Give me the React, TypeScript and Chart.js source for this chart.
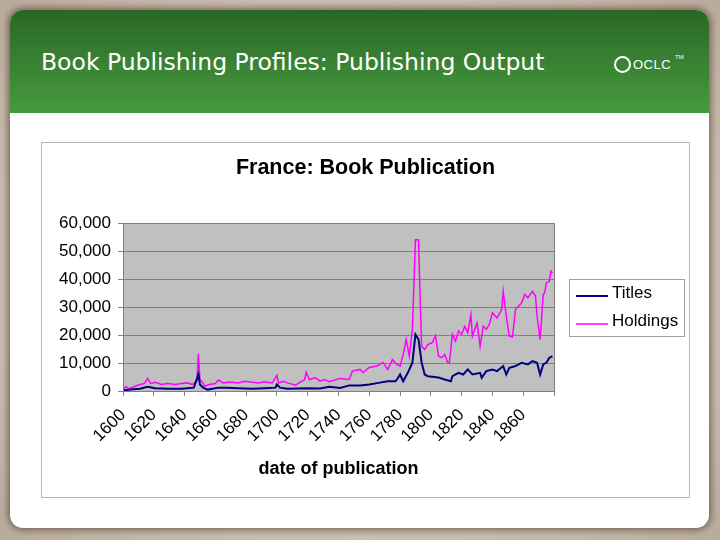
import React, { useEffect, useRef } from "react";
import { Chart, registerables } from "chart.js";

Chart.register(...registerables);

const titleYears = [1600, 1605, 1611, 1616, 1621, 1629, 1638, 1646, 1649, 1650, 1652, 1655, 1662, 1668, 1675, 1684, 1692, 1699, 1700, 1702, 1707, 1719, 1728, 1734, 1741, 1747, 1754, 1760, 1766, 1772, 1777, 1778, 1780, 1782, 1785, 1788, 1790, 1792, 1794, 1796, 1798, 1805, 1809, 1813, 1814, 1818, 1821, 1824, 1827, 1832, 1833, 1836, 1840, 1843, 1847, 1849, 1851, 1855, 1859, 1863, 1866, 1869, 1871, 1873, 1875, 1877, 1879];
const titleValues = [200, 500, 800, 1500, 1000, 800, 800, 1200, 5900, 2300, 1200, 500, 1200, 1200, 1000, 800, 1000, 1200, 2300, 1200, 800, 1000, 900, 1500, 1100, 2000, 2000, 2300, 2900, 3500, 3500, 4100, 5900, 3500, 6500, 10100, 20200, 18400, 10200, 5900, 5300, 4800, 4100, 3500, 5300, 6500, 5900, 7700, 5900, 6500, 4700, 7100, 7700, 7100, 8900, 5900, 8300, 8900, 10100, 9500, 10700, 10100, 5900, 9500, 10100, 11900, 12400];

const holdingYears = [1600, 1602, 1604, 1608, 1611, 1614, 1616, 1618, 1621, 1625, 1629, 1634, 1638, 1642, 1645, 1648, 1649, 1650, 1652, 1653, 1656, 1660, 1662, 1665, 1668, 1671, 1675, 1679, 1684, 1688, 1692, 1697, 1700, 1701, 1704, 1707, 1712, 1715, 1718, 1719, 1721, 1725, 1728, 1731, 1734, 1741, 1747, 1749, 1754, 1756, 1760, 1765, 1769, 1772, 1775, 1778, 1780, 1782, 1784, 1786, 1788, 1790, 1792, 1793, 1794, 1796, 1798, 1801, 1803, 1805, 1807, 1809, 1811, 1812, 1814, 1816, 1818, 1820, 1822, 1824, 1826, 1827, 1830, 1832, 1834, 1836, 1838, 1840, 1843, 1846, 1847, 1849, 1851, 1853, 1855, 1857, 1859, 1861, 1863, 1866, 1868, 1869, 1871, 1873, 1874, 1875, 1877, 1878, 1879];
const holdingValues = [500, 1500, 800, 1700, 2300, 2700, 4500, 2700, 3100, 2300, 2700, 2300, 2700, 2900, 2300, 3500, 13400, 4100, 2900, 1700, 2300, 2700, 3900, 2900, 3100, 3100, 2900, 3500, 3100, 2900, 3300, 2900, 5600, 2900, 3500, 2900, 2100, 3100, 4100, 6700, 4100, 4700, 3500, 4100, 3300, 4500, 4100, 7100, 7700, 6600, 8400, 8900, 10200, 7700, 11200, 9500, 8900, 13000, 18400, 12400, 22000, 54000, 54000, 33900, 16000, 14800, 16600, 17300, 19800, 12400, 11900, 13000, 10100, 10100, 20200, 17800, 21400, 20200, 23100, 20800, 27300, 19600, 24300, 16000, 23100, 22000, 23800, 27900, 26100, 29100, 35600, 26700, 19600, 19300, 29100, 30300, 31500, 34500, 33300, 35600, 33900, 26700, 18400, 34500, 35100, 38600, 39200, 42800, 42200];

const seriesLabels = ["Titles", "Holdings"];
const chartTitle = "France: Book Publication";
const xAxisTitle = "date of publication";
const slideTitle = "Book Publishing Profiles: Publishing Output";

const FONT = "'Liberation Sans', Arial, sans-serif";

const plotBgPlugin = {
  id: "plotBg",
  beforeDraw(chart: any) {
    const { ctx, chartArea } = chart;
    ctx.save();
    ctx.fillStyle = "#c0c0c0";
    ctx.fillRect(chartArea.left, chartArea.top, chartArea.right - chartArea.left, chartArea.bottom - chartArea.top);
    ctx.restore();
  },
  afterDatasetsDraw(chart: any) {
    const { ctx, chartArea } = chart;
    ctx.save();
    ctx.strokeStyle = "#808080";
    ctx.lineWidth = 1;
    ctx.strokeRect(Math.round(chartArea.left) + 0.5, Math.round(chartArea.top) + 0.5, Math.round(chartArea.right - chartArea.left), Math.round(chartArea.bottom - chartArea.top));
    ctx.restore();
  },
};

const titleAndLegendPlugin = {
  id: "titleAndLegend",
  afterDraw(chart: any) {
    const { ctx } = chart;
    ctx.save();
    // chart title, centred on the whole chart frame
    ctx.fillStyle = "#000";
    ctx.font = `bold 21.5px ${FONT}`;
    ctx.textAlign = "center";
    ctx.textBaseline = "middle";
    ctx.fillText(chartTitle, chart.width / 2, 25);
    // boxed legend
    const x = 527, y = 136, w = 115, h = 57;
    ctx.fillStyle = "#ffffff";
    ctx.fillRect(x, y, w, h);
    ctx.strokeStyle = "#a0a0a0";
    ctx.lineWidth = 1;
    ctx.strokeRect(x + 0.5, y + 0.5, w, h);
    const rows = [150, 178];
    chart.data.datasets.forEach((ds: any, i: number) => {
      const ty = rows[i];
      ctx.strokeStyle = ds.borderColor;
      ctx.lineWidth = i === 0 ? 2 : 1.5;
      ctx.beginPath();
      ctx.moveTo(534, ty + 3);
      ctx.lineTo(566, ty + 3);
      ctx.stroke();
      ctx.fillStyle = "#000";
      ctx.font = `17px ${FONT}`;
      ctx.textBaseline = "middle";
      ctx.textAlign = "left";
      ctx.fillText(ds.label, 570, ty);
    });
    ctx.restore();
  },
};

function ChartView() {
  const ref = useRef<HTMLCanvasElement | null>(null);
  useEffect(() => {
    if (!ref.current) return;
    const chart = new Chart(ref.current, {
      type: "line",
      data: {
        datasets: [
          {
            label: seriesLabels[0],
            data: titleYears.map((x, i) => ({ x, y: titleValues[i] })),
            borderColor: "#000080",
            backgroundColor: "#000080",
            borderWidth: 2,
            pointRadius: 0,
            tension: 0,
          },
          {
            label: seriesLabels[1],
            data: holdingYears.map((x, i) => ({ x, y: holdingValues[i] })),
            borderColor: "#ff00ff",
            backgroundColor: "#ff00ff",
            borderWidth: 1.5,
            pointRadius: 0,
            tension: 0,
          },
        ],
      },
      options: {
        responsive: false,
        animation: false,
        layout: { padding: { left: 0, right: 135, top: 80, bottom: 0 } },
        plugins: {
          legend: { display: false },
          tooltip: { enabled: false },
          title: { display: false },
        },
        scales: {
          x: {
            type: "linear",
            min: 1600,
            max: 1880,
            afterFit: (s: any) => { s.height = 106; },
            ticks: {
              stepSize: 20,
              autoSkip: false,
              maxRotation: 45,
              minRotation: 45,
              padding: 9,
              color: "#000",
              font: { family: FONT, size: 17 },
              callback: (v: any) => (v === 1880 ? "" : String(v)),
            },
            grid: { drawOnChartArea: false, drawTicks: true, tickLength: 5, color: "#808080" },
            border: { color: "#808080" },
            title: {
              display: true,
              text: xAxisTitle,
              color: "#000",
              font: { family: FONT, size: 18, weight: "bold" },
              padding: { top: 0, bottom: 17 },
            },
          },
          y: {
            min: 0,
            max: 60000,
            afterFit: (s: any) => { s.width = 81; },
            ticks: {
              stepSize: 10000,
              padding: 7,
              color: "#000",
              font: { family: FONT, size: 17 },
            },
            grid: { color: "#808080", tickLength: 5 },
            border: { color: "#808080" },
          },
        },
      },
      plugins: [plotBgPlugin, titleAndLegendPlugin],
    } as any);
    return () => chart.destroy();
  }, []);
  return <canvas ref={ref} width={647} height={354} style={{ display: "block", width: 647, height: 354 }} />;
}

export default function App() {
  return (
    <div
      style={{
        position: "absolute",
        left: 0,
        top: 0,
        width: 720,
        height: 540,
        overflow: "hidden",
        background: "radial-gradient(ellipse at center, #d6cbbf 0%, #cbbfb2 70%, #b9ab9c 100%)",
      }}
    >
      <div
        style={{
          position: "absolute",
          left: 10,
          top: 10,
          width: 699,
          height: 518,
          borderRadius: 13,
          background: "#ffffff",
          boxShadow: "0 0 7px 2px rgba(90,70,50,0.75)",
          overflow: "hidden",
        }}
      >
        <div
          style={{
            position: "absolute",
            left: 0,
            top: 0,
            width: 699,
            height: 103,
            background: "linear-gradient(to bottom, #2b6627 0%, #3a8434 55%, #449a3e 100%)",
          }}
        />
      </div>
      <div
        style={{
          position: "absolute",
          left: 41,
          top: 47,
          color: "#ffffff",
          fontFamily: "'DejaVu Sans', sans-serif",
          fontSize: 23.5,
          lineHeight: "30px",
          whiteSpace: "nowrap",
        }}
      >
        {slideTitle}
      </div>
      <div style={{ position: "absolute", left: 613, top: 54, width: 72, height: 22, color: "#fff" }}>
        <div
          style={{
            position: "absolute",
            left: 1,
            top: 2,
            width: 13,
            height: 13,
            border: "2px solid #fff",
            borderRadius: "50%",
          }}
        />
        <span
          style={{
            position: "absolute",
            left: 20,
            top: 3,
            fontFamily: FONT,
            fontSize: 13,
            lineHeight: "15px",
            letterSpacing: 0.5,
          }}
        >
          OCLC
        </span>
        <span style={{ position: "absolute", left: 62, top: 0, fontFamily: FONT, fontSize: 6 }}>TM</span>
      </div>
      <div
        style={{
          position: "absolute",
          left: 41,
          top: 142,
          width: 647,
          height: 354,
          border: "1px solid #b8b8b8",
          background: "#fff",
        }}
      >
        <ChartView />
      </div>
    </div>
  );
}
